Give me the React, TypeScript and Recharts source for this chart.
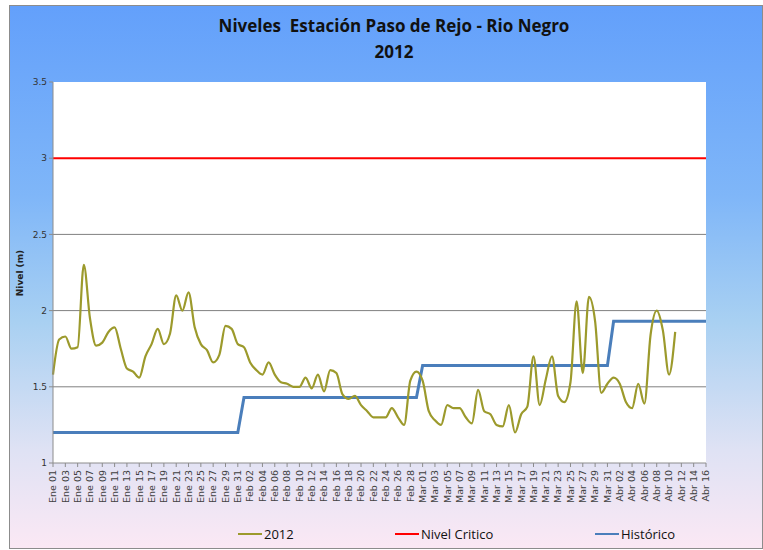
import { LineChart, Line, XAxis, YAxis, CartesianGrid } from "recharts"

// Meses del período y días incluidos en el eje (2012 es bisiesto)
const MESES = ["Ene", "Feb", "Mar", "Abr"]
const DIAS_POR_MES = [31, 29, 31, 16]

// Nivel diario 2012 (m), desde Ene 01 hasta Abr 11
const NIVEL_2012 = [
    1.58, 1.81, 1.83, 1.75, 1.76, 2.3, 1.95, 1.77, 1.79, 1.86,
    1.89, 1.75, 1.62, 1.6, 1.56, 1.7, 1.78, 1.88, 1.78, 1.85,
    2.1, 2.0, 2.12, 1.89, 1.78, 1.74, 1.66, 1.71, 1.9, 1.88,
    1.78, 1.76, 1.66, 1.61, 1.58, 1.66, 1.58, 1.53, 1.52, 1.5,
    1.5, 1.56, 1.49, 1.58, 1.47, 1.61, 1.59, 1.45, 1.42, 1.44,
    1.38, 1.34, 1.3, 1.3, 1.3, 1.36, 1.3, 1.25, 1.54, 1.6,
    1.54, 1.34, 1.28, 1.25, 1.38, 1.36, 1.36, 1.3, 1.26, 1.48,
    1.34, 1.32, 1.25, 1.24, 1.38, 1.2, 1.32, 1.37, 1.7, 1.38,
    1.55, 1.7, 1.44, 1.4, 1.53, 2.06, 1.59, 2.09, 1.93, 1.46,
    1.52, 1.56, 1.52, 1.4, 1.36, 1.52, 1.39, 1.84, 2.0, 1.87,
    1.58, 1.86,
]

// Nivel histórico medio por mes (m)
const HISTORICO_MES = [1.2, 1.43, 1.64, 1.93]

const NIVEL_CRITICO = 3

const Y_TICKS = [1, 1.5, 2, 2.5, 3, 3.5]

const data: { dia: string; nivel?: number; historico: number; critico: number }[] = []
MESES.forEach((mes, m) => {
    for (let d = 1; d <= DIAS_POR_MES[m]; d++) {
        const i = data.length
        data.push({
            dia: `${mes} ${String(d).padStart(2, "0")}`,
            nivel: NIVEL_2012[i],
            historico: HISTORICO_MES[m],
            critico: NIVEL_CRITICO,
        })
    }
})

const AXIS_FONT = "'DejaVu Sans', Verdana, sans-serif"
const TEXT_FONT = "'Open Sans', 'Noto Sans', sans-serif"

function XTick({ x, y, payload }: any) {
    return (
        <text
            x={x}
            y={y}
            transform={`rotate(-90 ${x} ${y})`}
            textAnchor="end"
            dy="0.35em"
            fontSize={9.5}
            fontFamily={AXIS_FONT}
            fill="#404040"
        >
            {payload.value}
        </text>
    )
}

function LegendItem({ color, label, left }: { color: string; label: string; left: number }) {
    return (
        <div style={{ position: "absolute", left, top: 525, display: "flex", alignItems: "center" }}>
            <div style={{ width: 24, height: 2, background: color, marginRight: 2 }} />
            <span style={{ fontFamily: TEXT_FONT, fontSize: 13, color: "#111" }}>{label}</span>
        </div>
    )
}

export default function App() {
    return (
        <div style={{ position: "absolute", left: 0, top: 0, width: 763, height: 550 }}>
            <div
                style={{
                    position: "absolute",
                    left: 9,
                    top: 5,
                    width: 752,
                    height: 542,
                    border: "1px solid #8c8c8c",
                    background: "linear-gradient(to bottom, #63a0fb 0%, #7fb6f8 35%, #a8d0f2 58%, #dfe2f4 82%, #fbe8f4 100%)",
                }}
            />
            <div
                style={{
                    position: "absolute",
                    left: 0,
                    width: 788,
                    top: 13,
                    textAlign: "center",
                    fontFamily: TEXT_FONT,
                    fontWeight: 700,
                    fontSize: 17,
                    lineHeight: "26px",
                    color: "#111",
                }}
            >
                <div>Niveles&nbsp; Estación Paso de Rejo - Rio Negro</div>
                <div>2012</div>
            </div>
            <div
                style={{
                    position: "absolute",
                    left: 20,
                    top: 273,
                    transform: "translate(-50%, -50%) rotate(-90deg)",
                    fontFamily: AXIS_FONT,
                    fontWeight: 700,
                    fontSize: 9,
                    color: "#222",
                    whiteSpace: "nowrap",
                }}
            >
                Nivel (m)
            </div>
            <LineChart
                width={763}
                height={550}
                data={data}
                margin={{ top: 82, right: 57, bottom: 42, left: 23 }}
                style={{ position: "absolute", left: 0, top: 0 }}
            >
                <CartesianGrid
                    vertical={false}
                    fill="#ffffff"
                    stroke="#808080"
                    horizontalValues={[1.5, 2, 2.5]}
                />
                <XAxis
                    dataKey="dia"
                    interval={1}
                    tick={<XTick />}
                    tickSize={4}
                    tickMargin={3}
                    height={45}
                    stroke="#8c8c8c"
                />
                <YAxis
                    domain={[1, 3.5]}
                    ticks={Y_TICKS}
                    width={30}
                    tickSize={4}
                    stroke="#8c8c8c"
                    tick={{ fontSize: 9, fontFamily: AXIS_FONT, fill: "#333" }}
                />
                <Line
                    dataKey="critico"
                    stroke="#ff0000"
                    strokeWidth={2}
                    dot={false}
                    isAnimationActive={false}
                />
                <Line
                    dataKey="historico"
                    type="linear"
                    stroke="#4a7ebb"
                    strokeWidth={3}
                    dot={false}
                    isAnimationActive={false}
                />
                <Line
                    dataKey="nivel"
                    type="monotone"
                    stroke="#9c9a2c"
                    strokeWidth={2.2}
                    dot={false}
                    isAnimationActive={false}
                />
            </LineChart>
            <LegendItem color="#9c9a2c" label="2012" left={238} />
            <LegendItem color="#ff0000" label="Nivel Critico" left={395} />
            <LegendItem color="#4a7ebb" label="Histórico" left={595} />
        </div>
    )
}
